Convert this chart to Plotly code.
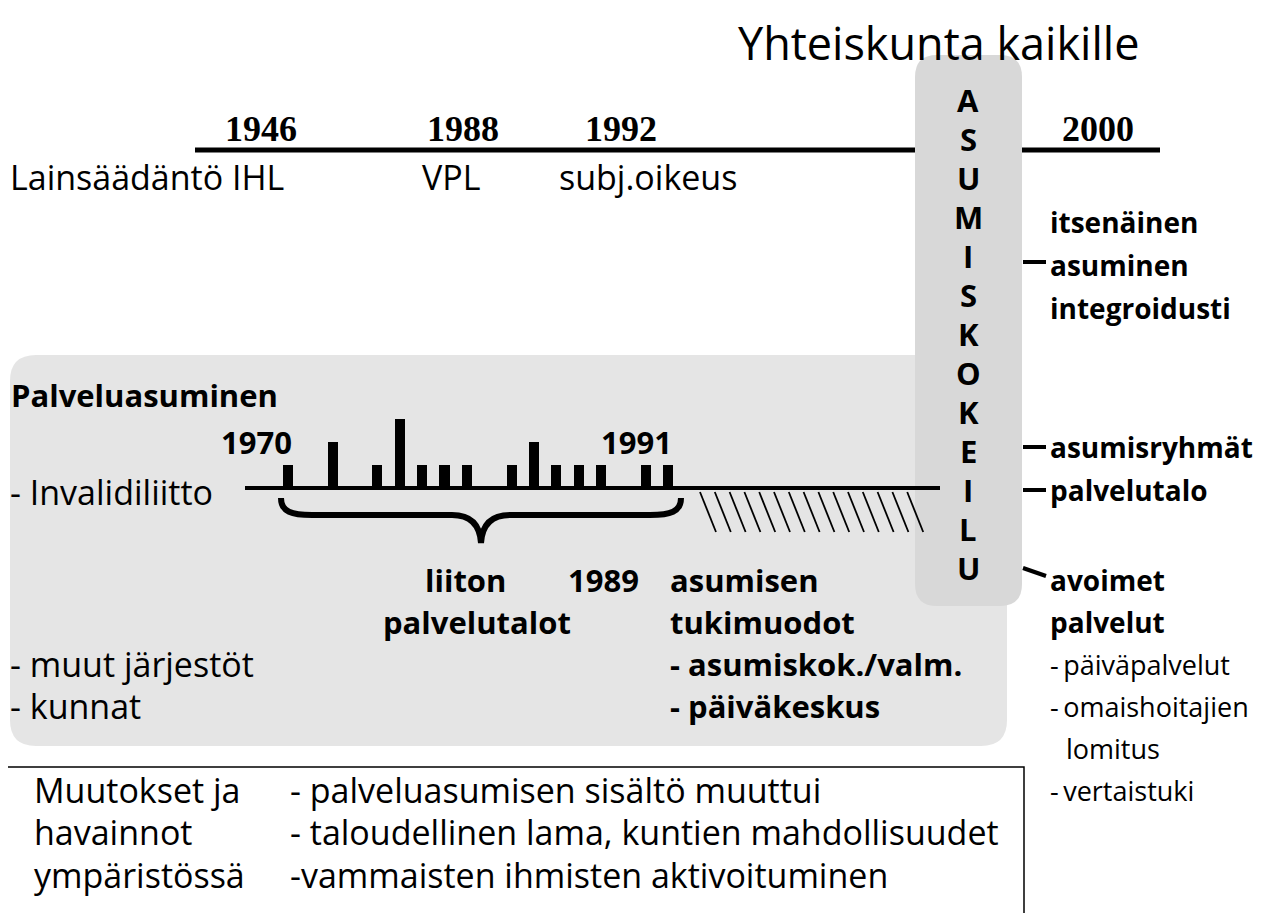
import plotly.graph_objects as go

# ---------------- data ----------------
title_text = "Yhteiskunta kaikille"
law_years = ["1946", "1988", "1992", "2000"]
law_labels = ["Lainsäädäntö IHL", "VPL", "subj.oikeus"]
vertical_word = "ASUMISKOKEILU"

# service houses built by Invalidiliitto (schematic time slots, count of houses)
house_slots = [0, 2, 4, 5, 6, 7, 8, 10, 11, 12, 13, 14, 16, 17]
house_counts = [1, 2, 1, 3, 1, 1, 1, 1, 2, 1, 1, 1, 1, 1]
span_labels = ["1970", "1991"]
span_slots = [0, 17]

box_header = "Palveluasuminen"
box_rows_left = ["- Invalidiliitto", "- muut järjestöt", "- kunnat"]
brace_label = ["liiton", "palvelutalot"]
new_year = "1989"
new_forms = ["asumisen", "tukimuodot", "- asumiskok./valm.", "- päiväkeskus"]

right_top = ["itsenäinen", "asuminen", "integroidusti"]
right_mid = ["asumisryhmät", "palvelutalo"]
right_open = ["avoimet", "palvelut"]
right_list = ["päiväpalvelut", "omaishoitajien", "lomitus", "vertaistuki"]

bottom_left = ["Muutokset ja", "havainnot", "ympäristössä"]
bottom_right = ["- palveluasumisen sisältö muuttui",
                "- taloudellinen lama, kuntien mahdollisuudet",
                "-vammaisten ihmisten aktivoituminen"]

# ---------------- styling / layout ----------------
SANS = "Open Sans"
SERIF = "Liberation Serif"
W, H = 1256, 905
OFF = 8  # page body margin -> coordinates are screen pixels
BOX_GRAY = "#e5e5e5"
VBOX_GRAY = "#d8d8d8"
REG = 34
BOLD = 31

fig = go.Figure()

# bars (houses) on their own scale
slot_px = (668 - 288) / 17.0
x2_range = [(OFF - 288) / slot_px, (OFF + W - 288) / slot_px]
unit_px = 23.0
y2_range = [-(OFF + H - 488) / unit_px, (488 - OFF) / unit_px]

fig.add_trace(go.Bar(x=house_slots, y=house_counts, width=0.45,
                     marker=dict(color="black", line=dict(width=0)),
                     xaxis="x2", yaxis="y2", hoverinfo="skip", showlegend=False))

shapes = []

def rrect(x0, y0, x1, y1, r, fill):
    p = (f"M {x0+r},{y0} L {x1-r},{y0} Q {x1},{y0} {x1},{y0+r} "
         f"L {x1},{y1-r} Q {x1},{y1} {x1-r},{y1} L {x0+r},{y1} "
         f"Q {x0},{y1} {x0},{y1-r} L {x0},{y0+r} Q {x0},{y0} {x0+r},{y0} Z")
    return dict(type="path", path=p, xref="x", yref="y", fillcolor=fill,
                line=dict(width=0), layer="below")

shapes.append(rrect(10, 355, 1007, 746, 26, BOX_GRAY))
shapes.append(rrect(915, 55, 1022, 606, 22, VBOX_GRAY))

def line(x0, y0, x1, y1, w, layer="above"):
    return dict(type="line", x0=x0, y0=y0, x1=x1, y1=y1, xref="x", yref="y",
                line=dict(color="black", width=w), layer=layer)

# top law timeline
shapes.append(line(195, 150, 915, 150, 5))
shapes.append(line(1022, 150, 1160, 150, 5))
# service-house timeline
shapes.append(line(245, 488, 940, 488, 4))
# hatching after 1991
for i in range(15):
    hx = 700 + i * 14.8
    shapes.append(line(hx, 492, hx + 16, 532, 1.8))
# brace under 1970-1991
brace = ("M 281,498 C 281,512 292,515 312,515 L 452,515 "
         "C 472,515 480,526 481,543 C 482,526 490,515 510,515 "
         "L 650,515 C 670,515 681,512 681,498")
shapes.append(dict(type="path", path=brace, xref="x", yref="y",
                   line=dict(color="black", width=6)))
# connectors on the right
shapes.append(line(1023, 262, 1046, 262, 4))
shapes.append(line(1023, 447, 1046, 447, 4))
shapes.append(line(1023, 490, 1046, 490, 4))
shapes.append(line(1023, 568, 1046, 576, 4))
# bottom box
shapes.append(dict(type="rect", x0=5, y0=767, x1=1024, y1=940, xref="x", yref="y",
                   line=dict(color="black", width=1.5), fillcolor="rgba(0,0,0,0)"))

ann = []

def txt(x, y, s, size, bold=False, family=SANS, xanchor="left", xref="x"):
    ann.append(dict(x=x, y=y, xref=xref, yref="y", text=(f"<b>{s}</b>" if bold else s),
                    showarrow=False, xanchor=xanchor, yanchor="middle",
                    font=dict(family=family, size=size, color="black")))

txt(736, 42, title_text, 45)

for s, cx in zip(law_years, [261, 463, 621, 1098]):
    txt(cx, 129, s, 36, bold=True, family=SERIF, xanchor="center")
for s, lx in zip(law_labels, [8, 420, 557]):
    txt(lx, 177, s, REG)

for i, ch in enumerate(vertical_word):
    txt(968, 100 + 39 * i, ch, 31, bold=True, xanchor="center")

txt(9, 395, box_header, BOLD, bold=True)
for s, sl in zip(span_labels, span_slots):
    txt(sl + 0.25, 442, s, BOLD, bold=True, xanchor="right", xref="x2")
for s, y in zip(box_rows_left, [492, 664, 706]):
    txt(8, y, s, REG)
txt(465, 580, brace_label[0], BOLD, bold=True, xanchor="center")
txt(477, 622, brace_label[1], BOLD, bold=True, xanchor="center")
txt(566, 580, new_year, BOLD, bold=True)
for s, y in zip(new_forms, [580, 622, 664, 706]):
    txt(668, y, s, BOLD, bold=True)

RB = 28
for s, y in zip(right_top, [222, 265, 308]):
    txt(1048, y, s, RB, bold=True)
for s, y in zip(right_mid, [447, 490]):
    txt(1048, y, s, RB, bold=True)
for s, y in zip(right_open, [580, 622]):
    txt(1048, y, s, RB, bold=True)
list_y = [664, 706, 748, 790]
for s, y in zip(right_list, list_y):
    if s == "lomitus":
        txt(1064, y, s, 27)
    else:
        txt(1048, y, "-\u2009" + s, 27)

for s, y in zip(bottom_left, [790, 832, 875]):
    txt(32, y, s, REG)
for s, y in zip(bottom_right, [790, 832, 875]):
    txt(288, y, s, REG)

fig.update_layout(
    width=W, height=H, margin=dict(l=0, r=0, t=0, b=0),
    paper_bgcolor="white", plot_bgcolor="white",
    xaxis=dict(range=[OFF, OFF + W], visible=False, domain=[0, 1]),
    yaxis=dict(range=[OFF + H, OFF], visible=False, domain=[0, 1]),
    xaxis2=dict(range=x2_range, visible=False, overlaying="x", domain=[0, 1]),
    yaxis2=dict(range=y2_range, visible=False, overlaying="y", domain=[0, 1]),
    shapes=shapes, annotations=ann, showlegend=False, bargap=0,
)

fig.write_html("out.html")
